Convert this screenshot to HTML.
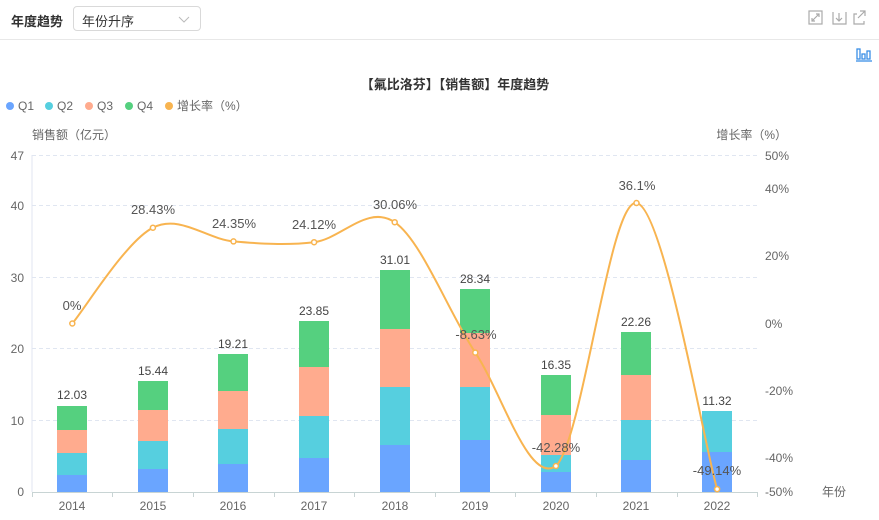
<!DOCTYPE html><html><head><meta charset="utf-8"><style>
body{margin:0;width:879px;height:520px;background:#fff;font-family:"Liberation Sans","Noto Sans CJK SC",sans-serif;overflow:hidden;position:relative}
.hdr{position:absolute;left:0;top:0;width:879px;height:39px;border-bottom:1px solid #e8e8e8}
.t{position:absolute;left:11px;top:11px;font-size:13px;font-weight:bold;color:#333}
.sel{position:absolute;left:73px;top:6px;width:128px;height:25px;border:1px solid #d9d9d9;border-radius:4px;box-sizing:border-box;font-size:13px;color:#333;padding:4px 8px}
</style></head><body>
<div class="hdr"><div class="t">年度趋势</div><div class="sel">年份升序<svg style="position:absolute;right:10px;top:9px" width="12" height="7"><path d="M1 1l5 5 5-5" fill="none" stroke="#bbb"/></svg></div>
<svg style="position:absolute;left:808px;top:10px" width="64" height="18"><g fill="none" stroke="#aaa" stroke-width="1.2"><rect x="1" y="1" width="13" height="13"/><path d="M4 11l7-7M8 4h3v3M4 8v3h3"/><path d="M25 2v12h13V2M31 3v8M28 8l3 3 3-3"/><path d="M49 4h-3v10h10v-3M52 1h5v5M57 1l-7 7"/></g></svg></div>
<svg style="position:absolute;left:856px;top:48px" width="16" height="14"><g fill="none" stroke="#3a8ee6" stroke-width="1.3"><rect x="1" y="1" width="3" height="10"/><rect x="6" y="6" width="3" height="5"/><rect x="11" y="3" width="3" height="8"/><path d="M0 13h16"/></g></svg>
<svg width="879" height="520" style="position:absolute;left:0;top:0" font-family="Liberation Sans, Noto Sans CJK SC, sans-serif">
<text x="455" y="89" font-size="13" font-weight="bold" fill="#333" text-anchor="middle">【氟比洛芬】【销售额】年度趋势</text>
<g font-size="12" fill="#666">
<circle cx="10" cy="106" r="4" fill="#6aa5ff"/><text x="18" y="110">Q1</text>
<circle cx="49" cy="106" r="4" fill="#56cfdf"/><text x="57" y="110">Q2</text>
<circle cx="89" cy="106" r="4" fill="#ffab8e"/><text x="97" y="110">Q3</text>
<circle cx="129" cy="106" r="4" fill="#55d07f"/><text x="137" y="110">Q4</text>
<circle cx="169" cy="106" r="4" fill="#f8b450"/><text x="177" y="110">增长率（%）</text>
<text x="32" y="139">销售额（亿元）</text>
<text x="787" y="139" text-anchor="end">增长率（%）</text>
</g>
<g stroke="#e0e6f1" stroke-dasharray="4,3"><path d="M32 155.5H757M32 205.5H757M32 277.5H757M32 348.5H757M32 420.5H757"/></g>
<g font-size="12" fill="#666" text-anchor="end">
<text x="24" y="160">47</text><text x="24" y="210">40</text><text x="24" y="282">30</text><text x="24" y="353">20</text><text x="24" y="425">10</text><text x="24" y="496">0</text>
</g>
<g font-size="12" fill="#666">
<text x="765" y="160">50%</text><text x="765" y="193">40%</text><text x="765" y="260">20%</text><text x="765" y="328">0%</text><text x="765" y="395">-20%</text><text x="765" y="462">-40%</text><text x="765" y="496">-50%</text>
<text x="822" y="496">年份</text>
</g>
<g>
<rect x="57" y="475" width="30" height="17" fill="#6aa5ff"/><rect x="57" y="453" width="30" height="22" fill="#56cfdf"/><rect x="57" y="430" width="30" height="23" fill="#ffab8e"/><rect x="57" y="406" width="30" height="24" fill="#55d07f"/>
<rect x="138" y="469" width="30" height="23" fill="#6aa5ff"/><rect x="138" y="441" width="30" height="28" fill="#56cfdf"/><rect x="138" y="410" width="30" height="31" fill="#ffab8e"/><rect x="138" y="381" width="30" height="29" fill="#55d07f"/>
<rect x="218" y="464" width="30" height="28" fill="#6aa5ff"/><rect x="218" y="429" width="30" height="35" fill="#56cfdf"/><rect x="218" y="391" width="30" height="38" fill="#ffab8e"/><rect x="218" y="354" width="30" height="37" fill="#55d07f"/>
<rect x="299" y="458" width="30" height="34" fill="#6aa5ff"/><rect x="299" y="416" width="30" height="42" fill="#56cfdf"/><rect x="299" y="367" width="30" height="49" fill="#ffab8e"/><rect x="299" y="321" width="30" height="46" fill="#55d07f"/>
<rect x="380" y="445" width="30" height="47" fill="#6aa5ff"/><rect x="380" y="387" width="30" height="58" fill="#56cfdf"/><rect x="380" y="329" width="30" height="58" fill="#ffab8e"/><rect x="380" y="270" width="30" height="59" fill="#55d07f"/>
<rect x="460" y="440" width="30" height="52" fill="#6aa5ff"/><rect x="460" y="387" width="30" height="53" fill="#56cfdf"/><rect x="460" y="333" width="30" height="54" fill="#ffab8e"/><rect x="460" y="289" width="30" height="44" fill="#55d07f"/>
<rect x="541" y="472" width="30" height="20" fill="#6aa5ff"/><rect x="541" y="455" width="30" height="17" fill="#56cfdf"/><rect x="541" y="415" width="30" height="40" fill="#ffab8e"/><rect x="541" y="375" width="30" height="40" fill="#55d07f"/>
<rect x="621" y="460" width="30" height="32" fill="#6aa5ff"/><rect x="621" y="420" width="30" height="40" fill="#56cfdf"/><rect x="621" y="375" width="30" height="45" fill="#ffab8e"/><rect x="621" y="332" width="30" height="43" fill="#55d07f"/>
<rect x="702" y="452" width="30" height="40" fill="#6aa5ff"/><rect x="702" y="411" width="30" height="41" fill="#56cfdf"/>
</g>
<g font-size="12" fill="#444" text-anchor="middle">
<text x="72" y="399">12.03</text><text x="153" y="375">15.44</text><text x="233" y="348">19.21</text><text x="314" y="315">23.85</text><text x="395" y="264">31.01</text><text x="475" y="283">28.34</text><text x="556" y="369">16.35</text><text x="636" y="326">22.26</text><text x="717" y="405">11.32</text>
</g>
<path d="M32 492.5H757" stroke="#c8d4d4"/>
<path d="M32 155V492" stroke="#e0e6f1"/>
<g stroke="#c8d4d4"><path d="M32.5 492v5M112.5 492v5M193.5 492v5M274.5 492v5M354.5 492v5M435.5 492v5M515.5 492v5M596.5 492v5M677.5 492v5M757.5 492v5"/></g>
<g font-size="12" fill="#666" text-anchor="middle">
<text x="72" y="510">2014</text><text x="153" y="510">2015</text><text x="233" y="510">2016</text><text x="314" y="510">2017</text><text x="395" y="510">2018</text><text x="475" y="510">2019</text><text x="556" y="510">2020</text><text x="636" y="510">2021</text><text x="717" y="510">2022</text>
</g>
<path d="M72.3 323.5C85.7 307.5 126 241.4 152.9 227.7C179.8 214 206.6 239 233.5 241.4C260.4 243.8 287.2 245.4 314.1 242.2C341 239 367.8 203.8 394.7 222.2C421.6 240.6 448.4 312 475.3 352.6C502.2 393.2 529 485 555.9 466C582.8 441.1 609.6 199.1 636.5 203C663.4 206.9 703.7 442.9 717.1 489.1" fill="none" stroke="#f8b450" stroke-width="2"/>
<g fill="#fff" stroke="#f8b450" stroke-width="1.5">
<circle cx="72.3" cy="323.5" r="2.5"/><circle cx="152.9" cy="227.7" r="2.5"/><circle cx="233.5" cy="241.4" r="2.5"/><circle cx="314.1" cy="242.2" r="2.5"/><circle cx="394.7" cy="222.2" r="2.5"/><circle cx="475.3" cy="352.6" r="2.5"/><circle cx="555.9" cy="466" r="2.5"/><circle cx="636.5" cy="203" r="2.5"/><circle cx="717.1" cy="489.1" r="2.5"/>
</g>
<g font-size="13" fill="#555" text-anchor="middle">
<text x="72" y="310">0%</text><text x="153" y="214">28.43%</text><text x="234" y="228">24.35%</text><text x="314" y="229">24.12%</text><text x="395" y="209">30.06%</text><text x="476" y="339">-8.63%</text><text x="556" y="452">-42.28%</text><text x="637" y="190">36.1%</text><text x="717" y="475">-49.14%</text>
</g>
</svg>
</body></html>
